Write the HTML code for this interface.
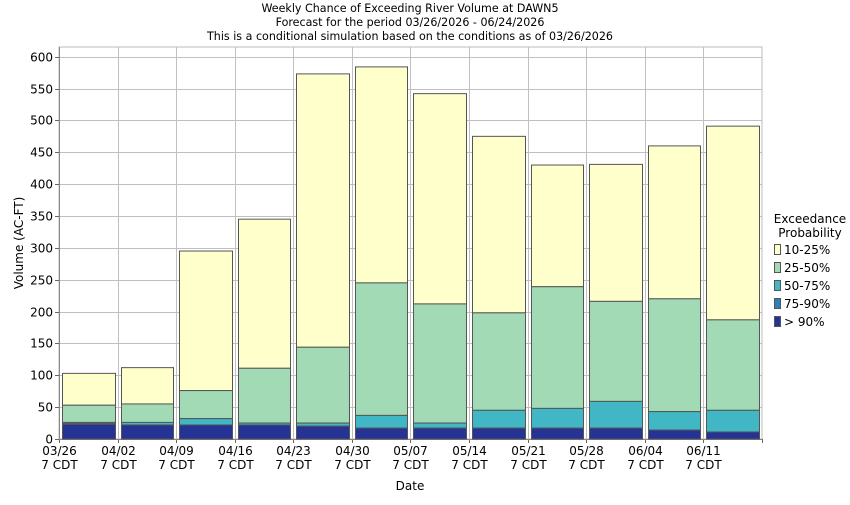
<!DOCTYPE html>
<html><head><meta charset="utf-8"><style>
html,body{margin:0;padding:0;background:#fff;}
svg text{font-family:"DejaVu Sans","Liberation Sans",sans-serif;font-size:12px;fill:#000;}
svg text.t{font-size:11.1px;}
</style></head><body>
<svg id="s" width="850" height="500" xmlns="http://www.w3.org/2000/svg">
<text class="t" x="410" y="12" text-anchor="middle">Weekly Chance of Exceeding River Volume at DAWN5</text>
<text class="t" x="410" y="26" text-anchor="middle">Forecast for the period 03/26/2026 - 06/24/2026</text>
<text class="t" x="410" y="40" text-anchor="middle">This is a conditional simulation based on the conditions as of 03/26/2026</text>
<g id="grid"></g>
<g id="bars"></g>
<text transform="translate(23,243) rotate(-90)" text-anchor="middle">Volume (AC-FT)</text>
<text x="410" y="490" text-anchor="middle">Date</text>
<text x="810" y="223" text-anchor="middle">Exceedance</text>
<text x="810" y="237" text-anchor="middle">Probability</text>
<rect x="774.5" y="244.5" width="6" height="10" fill="#ffffcc" stroke="#555"/><text x="784" y="254">10-25%</text>
<rect x="774.5" y="262.5" width="6" height="10" fill="#a1dab4" stroke="#555"/><text x="784" y="272">25-50%</text>
<rect x="774.5" y="280.5" width="6" height="10" fill="#41b6c4" stroke="#555"/><text x="784" y="290">50-75%</text>
<rect x="774.5" y="298.5" width="6" height="10" fill="#2c7fb8" stroke="#555"/><text x="784" y="308">75-90%</text>
<rect x="774.5" y="316.5" width="6" height="10" fill="#253494" stroke="#555"/><text x="784" y="326">&gt; 90%</text>
</svg>
<script>
var ns="http://www.w3.org/2000/svg";
function el(p,t,a,txt){var e=document.createElementNS(ns,t);for(var k in a)e.setAttribute(k,a[k]);if(txt)e.textContent=txt;p.appendChild(e);return e;}
var g=document.getElementById("grid"),b=document.getElementById("bars");
var L=59,R=762,T=47,B=439,k=(439-56.7)/600,w=58.58;
function Y(v){return B-v*k;}
el(g,"rect",{x:L,y:T,width:R-L,height:B-T,fill:"#fff",stroke:"#bbb"});
for(var v=0;v<=600;v+=50){var y=Math.round(Y(v))+0.5;
 if(v>0)el(g,"line",{x1:L,x2:R,y1:y,y2:y,stroke:"#c0c0c0"});
 el(g,"line",{x1:L-4,x2:L,y1:y,y2:y,stroke:"#666"});
 el(g,"text",{x:L-6,y:y+4,"text-anchor":"end"},String(v));}
var dates=["03/26","04/02","04/09","04/16","04/23","04/30","05/07","05/14","05/21","05/28","06/04","06/11"];
for(var i=0;i<=12;i++){var x=Math.round(L+w*i)+0.5;
 if(i>0&&i<12)el(g,"line",{x1:x,x2:x,y1:T,y2:B,stroke:"#c0c0c0"});
 el(g,"line",{x1:x,x2:x,y1:B,y2:B+4,stroke:"#666"});
 if(i<12){el(g,"text",{x:x,y:455,"text-anchor":"middle"},dates[i]);el(g,"text",{x:x,y:469,"text-anchor":"middle"},"7 CDT");}}
el(g,"line",{x1:L+.5,x2:L+.5,y1:T,y2:B,stroke:"#888"});
el(g,"line",{x1:L,x2:R,y1:B+.5,y2:B+.5,stroke:"#888"});
var d=[[103,53,26,24,23],[112,55,26,22,22],[295,76,32,22,22],[345,111,25,22,22],[573,144,25,20,20],[584,245,37,17,17],[542,212,25,17,17],[475,198,45,17,17],[430,239,48,17,17],[431,216,59,17,17],[460,220,43,14,14],[491,187,45,11,11]];
var cols=["#ffffcc","#a1dab4","#41b6c4","#2c7fb8","#253494"];
d.forEach(function(s,i){var x0=Math.round(L+w*i+3)+0.5,x1=Math.round(L+w*(i+1)-3)+0.5;
 for(var j=0;j<5;j++){var top=Y(s[j]),bot=j<4?Y(s[j+1]):B;if(j==4)bot=B;
  var hh=bot-top;if(hh<0)hh=0;
  el(b,"rect",{x:x0,y:top,width:x1-x0,height:Math.max(hh,0.01),fill:cols[j],stroke:"#555","stroke-width":1});}
});
</script>
</body></html>
